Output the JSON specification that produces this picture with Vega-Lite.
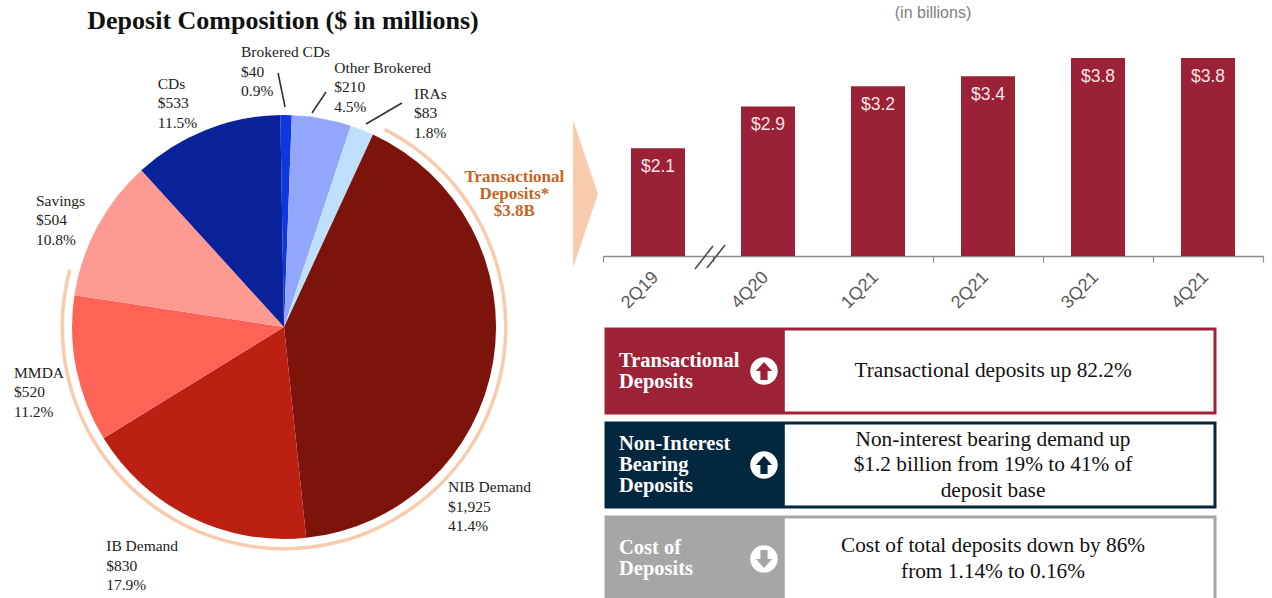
{
"$schema":"https://vega.github.io/schema/vega-lite/v6.json",
"width":1272,"height":598,"autosize":{"type":"none"},"padding":0,"background":"white",
"config":{"view":{"stroke":null}},
"datasets":{
"deposits":[
{"order":1,"category":"Brokered CDs","millions":40,"label":"Brokered CDs\n$40\n0.9%"},
{"order":2,"category":"Other Brokered","millions":210,"label":"Other Brokered\n$210\n4.5%"},
{"order":3,"category":"IRAs","millions":83,"label":"IRAs\n$83\n1.8%"},
{"order":4,"category":"NIB Demand","millions":1925,"label":"NIB Demand\n$1,925\n41.4%"},
{"order":5,"category":"IB Demand","millions":830,"label":"IB Demand\n$830\n17.9%"},
{"order":6,"category":"MMDA","millions":520,"label":"MMDA\n$520\n11.2%"},
{"order":7,"category":"Savings","millions":504,"label":"Savings\n$504\n10.8%"},
{"order":8,"category":"CDs","millions":533,"label":"CDs\n$533\n11.5%"}
],
"ring":[{"from":361,"to":3690,"label":"Transactional\nDeposits*\n$3.8B","at":787}],
"quarters":[
{"quarter":"2Q19","billions":2.07,"label":"$2.1"},
{"quarter":"4Q20","billions":2.87,"label":"$2.9"},
{"quarter":"1Q21","billions":3.26,"label":"$3.2"},
{"quarter":"2Q21","billions":3.45,"label":"$3.4"},
{"quarter":"3Q21","billions":3.80,"label":"$3.8"},
{"quarter":"4Q21","billions":3.80,"label":"$3.8"}
],
"panels":[
{"panel":"Transactional Deposits","heading":"Transactional\nDeposits","body":"Transactional deposits up 82.2%","direction":"up"},
{"panel":"Non-Interest Bearing Deposits","heading":"Non-Interest\nBearing\nDeposits","body":"Non-interest bearing demand up\n$1.2 billion from 19% to 41% of\ndeposit base","direction":"up"},
{"panel":"Cost of Deposits","heading":"Cost of\nDeposits","body":"Cost of total deposits down by 86%\nfrom 1.14% to 0.16%","direction":"down"}
],
"notes":[{"title":"Deposit Composition ($ in millions)","sub":"(in billions)"}]
},
"layer":[
{
"data":{"name":"quarters"},
"encoding":{
 "x":{"field":"quarter","type":"nominal","sort":null,"title":null,"scale":{"range":[603,1263],"paddingInner":0,"paddingOuter":0},
  "axis":{"orient":"bottom","offset":-342,"tickBand":"extent","labelAngle":-45,"labelAlign":"right","labelBaseline":"top","labelPadding":6,"labelOffset":-9,"labelFont":"Liberation Sans","labelFontSize":18,"labelColor":"#595959","domainColor":"#8C8C8C","domainWidth":1.5,"tickColor":{"condition":{"test":"datum.value==='4Q20'","value":"transparent"},"value":"#8C8C8C"},"tickWidth":1.2,"tickSize":6,"grid":false}},
 "y":{"field":"billions","type":"quantitative","axis":null,"scale":{"domain":[0,4],"nice":false,"range":[256,47.6]}}
},
"layer":[
{"mark":{"type":"bar","color":"#9B2136","width":54}},
{"mark":{"type":"text","dy":19,"baseline":"middle","align":"center","font":"Liberation Sans","fontSize":17.5,"color":"#F7E4E6"},"encoding":{"text":{"field":"label"}}}
]
},
{
"encoding":{
"x":{"datum":0.2233,"scale":{"domain":[0,1],"nice":false},"axis":null},
"y":{"datum":0.5468,"scale":{"domain":[0,1],"nice":false,"reverse":true},"axis":null}
},
"layer":[
{"data":{"name":"deposits"},
 "transform":[{"stack":"millions","sort":[{"field":"order"}],"as":["start","end"]}],
 "mark":{"type":"arc","outerRadius":212,"innerRadius":0},
 "encoding":{
  "theta":{"field":"start","type":"quantitative","scale":{"domain":[0,4645],"range":[-0.0175,6.2657]}},
  "theta2":{"field":"end"},
  "color":{"field":"category","type":"nominal","legend":null,"scale":{"domain":["Brokered CDs","Other Brokered","IRAs","NIB Demand","IB Demand","MMDA","Savings","CDs"],"range":["#0F37E0","#92A6FC","#BFE0FC","#7C140B","#BC2012","#FF6355","#FF9A92","#0A2299"]}}
 }},
{"data":{"name":"ring"},
 "mark":{"type":"arc","outerRadius":223.5,"innerRadius":220,"color":"#F8CBAD"},
 "encoding":{"theta":{"field":"from","type":"quantitative","scale":{"domain":[0,4645],"range":[-0.0175,6.2657]}},"theta2":{"field":"to"}}},
{"data":{"name":"ring"},
 "mark":{"type":"text","radius":266,"dy":-17,"align":"center","baseline":"middle","lineBreak":"\n","lineHeight":17,"font":"Liberation Serif","fontWeight":"bold","fontSize":17,"color":"#C5651F"},
 "encoding":{"theta":{"field":"at","type":"quantitative","scale":{"domain":[0,4645],"range":[-0.0175,6.2657]}},"text":{"field":"label"}}},
{"data":{"name":"deposits"},
 "transform":[{"stack":"millions","sort":[{"field":"order"}],"as":["start","end"]},{"calculate":"(datum.start+datum.end)/2","as":"middle"}],
 "layer":[
 {"transform":[{"filter":"datum.category==='Brokered CDs'"}],"mark":{"type":"text","radius":240,"dx":-45.3,"dy":-41.5,"align":"left","baseline":"top","lineBreak":"\n","lineHeight":19.5,"font":"Liberation Serif","fontSize":15.5,"color":"#222222"}},
 {"transform":[{"filter":"datum.category==='Other Brokered'"}],"mark":{"type":"text","radius":240,"dx":7.5,"dy":-30.3,"align":"left","baseline":"top","lineBreak":"\n","lineHeight":19.5,"font":"Liberation Serif","fontSize":15.5,"color":"#222222"}},
 {"transform":[{"filter":"datum.category==='IRAs'"}],"mark":{"type":"text","radius":240,"dx":41.7,"dy":-17.3,"align":"left","baseline":"top","lineBreak":"\n","lineHeight":19.5,"font":"Liberation Serif","fontSize":15.5,"color":"#222222"}},
 {"transform":[{"filter":"datum.category==='NIB Demand'"}],"mark":{"type":"text","radius":240,"dx":-72.8,"dy":114.3,"align":"left","baseline":"top","lineBreak":"\n","lineHeight":19.5,"font":"Liberation Serif","fontSize":15.5,"color":"#222222"}},
 {"transform":[{"filter":"datum.category==='IB Demand'"}],"mark":{"type":"text","radius":240,"dx":-72,"dy":-2.9,"align":"left","baseline":"top","lineBreak":"\n","lineHeight":19.5,"font":"Liberation Serif","fontSize":15.5,"color":"#222222"}},
 {"transform":[{"filter":"datum.category==='MMDA'"}],"mark":{"type":"text","radius":240,"dx":-34.8,"dy":-9.3,"align":"left","baseline":"top","lineBreak":"\n","lineHeight":19.5,"font":"Liberation Serif","fontSize":15.5,"color":"#222222"}},
 {"transform":[{"filter":"datum.category==='Savings'"}],"mark":{"type":"text","radius":240,"dx":-36.5,"dy":-20,"align":"left","baseline":"top","lineBreak":"\n","lineHeight":19.5,"font":"Liberation Serif","fontSize":15.5,"color":"#222222"}},
 {"transform":[{"filter":"datum.category==='CDs'"}],"mark":{"type":"text","radius":240,"dx":-37.7,"dy":-27.3,"align":"left","baseline":"top","lineBreak":"\n","lineHeight":19.5,"font":"Liberation Serif","fontSize":15.5,"color":"#222222"}}
 ],
 "encoding":{
  "theta":{"field":"middle","type":"quantitative","scale":{"domain":[0,4645],"range":[-0.0175,6.2657]}},
  "text":{"field":"label"}
 }}
]
},
{
"data":{"name":"notes"},
"layer":[
{"mark":{"type":"text","font":"Liberation Serif","fontWeight":"bold","fontSize":26,"color":"#111111","align":"center","baseline":"middle"},
 "encoding":{"x":{"datum":0.2225,"scale":{"domain":[0,1],"nice":false},"axis":null},"y":{"datum":0.035,"scale":{"domain":[0,1],"nice":false,"reverse":true},"axis":null},"text":{"field":"title"}}},
{"mark":{"type":"text","font":"Liberation Sans","fontSize":16,"color":"#7F7F7F","align":"center","baseline":"middle"},
 "encoding":{"x":{"datum":0.7335},"y":{"datum":0.0225},"text":{"field":"sub"}}},
{"mark":{"type":"point","filled":true,"opacity":1,"size":21904,"shape":"M-0.169,-1 L0.169,0 L-0.169,1 Z","color":"#F8CBAD","strokeWidth":0},
 "encoding":{"x":{"datum":0.4603},"y":{"datum":0.3244}}},
{"mark":{"type":"rule","color":"#333333","strokeWidth":1.6},"encoding":{"x":{"datum":0.2186},"y":{"datum":0.1221},"x2":{"datum":0.2241},"y2":{"datum":0.1789}}},
{"mark":{"type":"rule","color":"#333333","strokeWidth":1.6},"encoding":{"x":{"datum":0.2563},"y":{"datum":0.1538},"x2":{"datum":0.2453},"y2":{"datum":0.1890}}},
{"mark":{"type":"rule","color":"#333333","strokeWidth":1.6},"encoding":{"x":{"datum":0.3160},"y":{"datum":0.1722},"x2":{"datum":0.2877},"y2":{"datum":0.2074}}},
{"mark":{"type":"rule","color":"#444444","strokeWidth":1.5},"encoding":{"x":{"datum":0.5464},"y":{"datum":0.4498},"x2":{"datum":0.5605},"y2":{"datum":0.4114}}},
{"mark":{"type":"rule","color":"#444444","strokeWidth":1.5},"encoding":{"x":{"datum":0.5558},"y":{"datum":0.4482},"x2":{"datum":0.5700},"y2":{"datum":0.4097}}}
]
},
{
"data":{"name":"panels"},
"encoding":{
 "y":{"field":"panel","type":"nominal","sort":null,"axis":null,"scale":{"range":[329,601],"paddingInner":0.106,"paddingOuter":0}}
},
"layer":[
{"mark":{"type":"rect","fill":"white","strokeWidth":3},
 "encoding":{"x":{"datum":0,"scale":{"domain":[0,1],"nice":false,"range":[606,1215]},"axis":null},"x2":{"datum":1},
 "stroke":{"field":"panel","type":"nominal","legend":null,"scale":{"domain":["Transactional Deposits","Non-Interest Bearing Deposits","Cost of Deposits"],"range":["#9E2236","#02273F","#A6A6A6"]}}}},
{"mark":{"type":"rect"},
 "encoding":{"x":{"datum":0},"x2":{"datum":0.2936},
 "fill":{"field":"panel","type":"nominal","legend":null,"scale":{"domain":["Transactional Deposits","Non-Interest Bearing Deposits","Cost of Deposits"],"range":["#9E2236","#02273F","#A6A6A6"]}}}},
{"transform":[{"filter":"datum.panel!=='Non-Interest Bearing Deposits'"}],"mark":{"type":"text","dy":-10.5,"align":"left","baseline":"middle","lineBreak":"\n","lineHeight":21,"font":"Liberation Serif","fontWeight":"bold","fontSize":20.5,"color":"#FFFFFF"},
 "encoding":{"x":{"datum":0.0214},"text":{"field":"heading"}}},
{"transform":[{"filter":"datum.panel==='Non-Interest Bearing Deposits'"}],"mark":{"type":"text","dy":-21,"align":"left","baseline":"middle","lineBreak":"\n","lineHeight":21,"font":"Liberation Serif","fontWeight":"bold","fontSize":20.5,"color":"#FFFFFF"},
 "encoding":{"x":{"datum":0.0214},"text":{"field":"heading"}}},
{"transform":[{"filter":"datum.panel==='Transactional Deposits'"}],"mark":{"type":"text","align":"center","baseline":"middle","lineBreak":"\n","lineHeight":25.5,"font":"Liberation Serif","fontSize":21.3,"color":"#111111"},
 "encoding":{"x":{"datum":0.6355},"text":{"field":"body"}}},
{"transform":[{"filter":"datum.panel==='Non-Interest Bearing Deposits'"}],"mark":{"type":"text","dy":-25.5,"align":"center","baseline":"middle","lineBreak":"\n","lineHeight":25.5,"font":"Liberation Serif","fontSize":21.3,"color":"#111111"},
 "encoding":{"x":{"datum":0.6355},"text":{"field":"body"}}},
{"transform":[{"filter":"datum.panel==='Cost of Deposits'"}],"mark":{"type":"text","dy":-12.75,"align":"center","baseline":"middle","lineBreak":"\n","lineHeight":25.5,"font":"Liberation Serif","fontSize":21.3,"color":"#111111"},
 "encoding":{"x":{"datum":0.6355},"text":{"field":"body"}}},
{"mark":{"type":"point","shape":"circle","filled":true,"opacity":1,"size":755,"color":"#FFFFFF"},
 "encoding":{"x":{"datum":0.2594}}},
{"mark":{"type":"point","filled":true,"opacity":1,"size":324,"strokeWidth":0},
 "encoding":{"x":{"datum":0.2594},
 "shape":{"field":"direction","type":"nominal","legend":null,"scale":{"domain":["up","down"],"range":["M0,-1 L0.9,0 L0.4,0 L0.4,1 L-0.4,1 L-0.4,0 L-0.9,0 Z","M0,1 L0.9,0 L0.4,0 L0.4,-1 L-0.4,-1 L-0.4,0 L-0.9,0 Z"]}},
 "fill":{"field":"panel","type":"nominal","legend":null}}}
]
}
],
"resolve":{"scale":{"x":"independent","y":"independent","theta":"independent","color":"independent","shape":"independent"},"axis":{"x":"independent","y":"independent"}}
}
